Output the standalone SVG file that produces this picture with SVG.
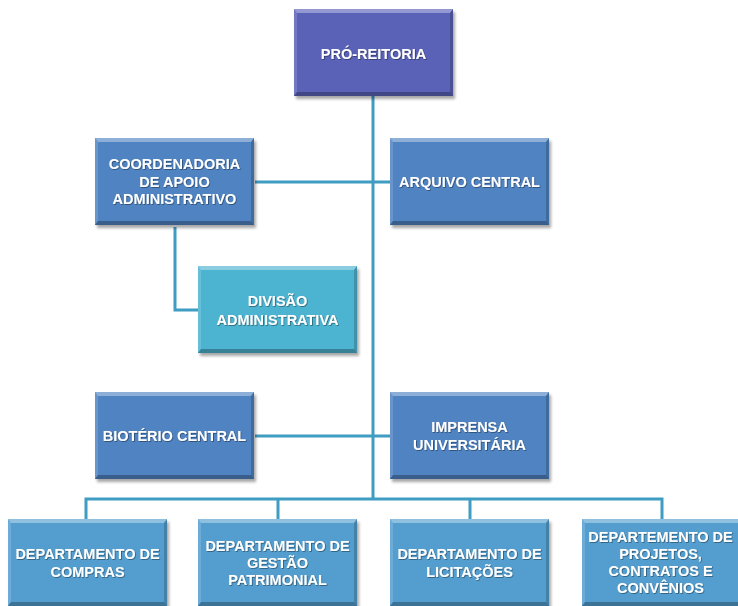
<svg xmlns="http://www.w3.org/2000/svg" xmlns:xlink="http://www.w3.org/1999/xlink" width="738" height="606" viewBox="0 0 738 606">
<style>
.t{font-family:"Liberation Sans",Arial,sans-serif;font-weight:bold;font-size:14.5px;fill:#fff;text-anchor:middle;filter:url(#ts)}
.c{fill:none;stroke:#3f9cc2;stroke-width:3}
.pro{fill:#5a62b8}
.blue{fill:#4f83c2}
.aqua{fill:#4cb3d0}
.dep{fill:#539ecf}
</style>
<defs>
<filter id="ts" x="-10%" y="-30%" width="120%" height="160%"><feDropShadow dx="0.8" dy="0.8" stdDeviation="0.5" flood-color="#000" flood-opacity="0.45"/></filter>
<filter id="bs" x="-10%" y="-10%" width="125%" height="130%"><feGaussianBlur stdDeviation="1.5"/></filter>
<g id="bev">
<rect x="2" y="3" width="159" height="87" fill="#000" opacity="0.35" filter="url(#bs)"/>
</g>
<g id="edge">
<polygon points="0,0 159,0 156,4 3,4" fill="#fff" opacity="0.35"/>
<polygon points="0,0 3,4 3,83 0,87" fill="#fff" opacity="0.15"/>
<polygon points="159,0 156,4 156,83 159,87" fill="#000" opacity="0.18"/>
<polygon points="0,87 159,87 156,83 3,83" fill="#000" opacity="0.28"/>
</g>
</defs>
<g id="connectors">
<line class="c" x1="373" y1="95" x2="373" y2="499"/>
<line class="c" x1="255" y1="182" x2="390" y2="182"/>
<polyline class="c" points="175,227 175,310 198,310"/>
<line class="c" x1="255" y1="436" x2="390" y2="436"/>
<polyline class="c" points="86,519 86,499 662,499 662,519"/>
<line class="c" x1="278" y1="499" x2="278" y2="519"/>
<line class="c" x1="470" y1="499" x2="470" y2="519"/>
</g>
<g id="pro" transform="translate(294,9)"><use xlink:href="#bev"/><rect class="pro" width="159" height="87"/><use xlink:href="#edge"/>
<text class="t" x="79.5" y="50">PRÓ-REITORIA</text></g>
<g id="coord" transform="translate(95,138)"><use xlink:href="#bev"/><rect class="blue" width="159" height="87"/><use xlink:href="#edge"/>
<text class="t" x="79.5" y="31">COORDENADORIA</text><text class="t" x="79.5" y="48.5">DE APOIO</text><text class="t" x="79.5" y="66">ADMINISTRATIVO</text></g>
<g id="arquivo" transform="translate(390,138)"><use xlink:href="#bev"/><rect class="blue" width="159" height="87"/><use xlink:href="#edge"/>
<text class="t" x="79.5" y="49">ARQUIVO CENTRAL</text></g>
<g id="divisao" transform="translate(198,266)"><use xlink:href="#bev"/><rect class="aqua" width="159" height="87"/><use xlink:href="#edge"/>
<text class="t" x="79.5" y="40">DIVISÃO</text><text class="t" x="79.5" y="59">ADMINISTRATIVA</text></g>
<g id="bioterio" transform="translate(95,392)"><use xlink:href="#bev"/><rect class="blue" width="159" height="87"/><use xlink:href="#edge"/>
<text class="t" x="79.5" y="49">BIOTÉRIO CENTRAL</text></g>
<g id="imprensa" transform="translate(390,392)"><use xlink:href="#bev"/><rect class="blue" width="159" height="87"/><use xlink:href="#edge"/>
<text class="t" x="79.5" y="40">IMPRENSA</text><text class="t" x="79.5" y="58">UNIVERSITÁRIA</text></g>
<g id="compras" transform="translate(8,519)"><use xlink:href="#bev"/><rect class="dep" width="159" height="87"/><use xlink:href="#edge"/>
<text class="t" x="79.5" y="40">DEPARTAMENTO DE</text><text class="t" x="79.5" y="58">COMPRAS</text></g>
<g id="gestao" transform="translate(198,519)"><use xlink:href="#bev"/><rect class="dep" width="159" height="87"/><use xlink:href="#edge"/>
<text class="t" x="79.5" y="32">DEPARTAMENTO DE</text><text class="t" x="79.5" y="49">GESTÃO</text><text class="t" x="79.5" y="66">PATRIMONIAL</text></g>
<g id="licitacoes" transform="translate(390,519)"><use xlink:href="#bev"/><rect class="dep" width="159" height="87"/><use xlink:href="#edge"/>
<text class="t" x="79.5" y="40">DEPARTAMENTO DE</text><text class="t" x="79.5" y="58">LICITAÇÕES</text></g>
<g id="projetos" transform="translate(582,519)"><use xlink:href="#bev"/><rect class="dep" width="159" height="87"/><use xlink:href="#edge"/>
<text class="t" x="78.5" y="23">DEPARTEMENTO DE</text><text class="t" x="78.5" y="40">PROJETOS,</text><text class="t" x="78.5" y="57">CONTRATOS E</text><text class="t" x="78.5" y="74">CONVÊNIOS</text></g>
</svg>
